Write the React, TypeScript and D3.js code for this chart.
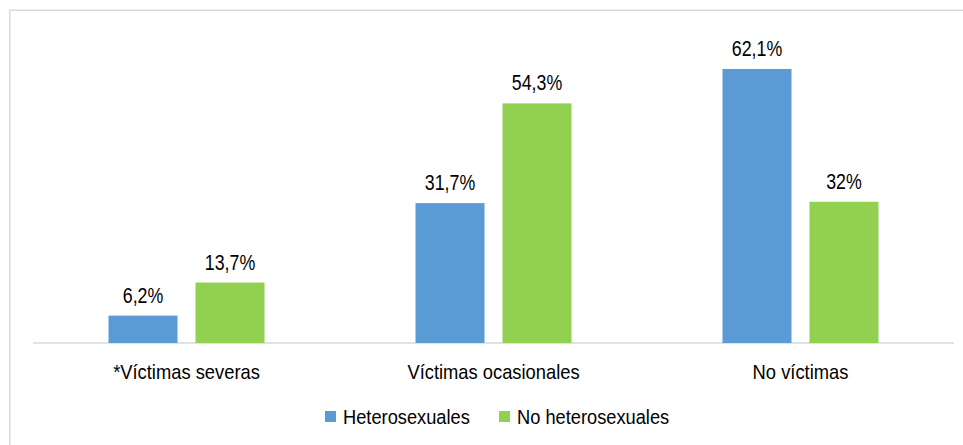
import React from "react";
import * as d3 from "d3";

const categories = ["*Víctimas severas", "Víctimas ocasionales", "No víctimas"];
const series = ["Heterosexuales", "No heterosexuales"];
const heteroValues = [6.2, 31.7, 62.1];
const noHeteroValues = [13.7, 54.3, 32];
const valueLabels = [["6,2%", "31,7%", "62,1%"], ["13,7%", "54,3%", "32%"]];
const colors = ["#5B9BD5", "#92D050"];

const W = 963;
const H = 445;
const FONT = "'Liberation Sans', Arial, sans-serif";

function NText(props: { x: number; y: number; size: number; sx: number; anchor?: "start" | "middle" | "end"; children: React.ReactNode }) {
  const { x, y, size, sx, anchor = "start", children } = props;
  return (
    <text
      transform={`translate(${x},${y}) scale(${sx},1)`}
      textAnchor={anchor}
      fontFamily={FONT}
      fontSize={size}
      fill="#000"
    >
      {children}
    </text>
  );
}

export default function App() {
  const x0 = d3.scaleBand<string>().domain(categories).range([33, 954]).paddingInner(0).paddingOuter(0);
  const x1 = d3.scaleBand<string>().domain(series).range([-78, 78]).paddingInner(18 / 87).paddingOuter(0);
  const y = d3.scaleLinear().domain([0, 70]).range([343, 34.1]);
  const data = [heteroValues, noHeteroValues];

  const legendItems = [
    { label: series[0], sx: 325, tx: 343 },
    { label: series[1], sx: 499, tx: 517 },
  ];

  return (
    <div style={{ position: "absolute", left: 0, top: 0 }}>
      <svg width={W} height={H} style={{ display: "block", background: "#fff" }}>
        <rect x={9.75} y={10.25} width={W + 10} height={H + 10} fill="#fff" stroke="#d9d9d9" strokeWidth={1.5} />
        <line x1={33} x2={954} y1={y(0)} y2={y(0)} stroke="#d9d9d9" strokeWidth={1.5} />
        {categories.map((c, ci) => {
          const cx = (x0(c) as number) + x0.bandwidth() / 2;
          return (
            <g key={c}>
              {series.map((s, si) => {
                const v = data[si][ci];
                const bx = cx + (x1(s) as number);
                return (
                  <g key={s}>
                    <rect x={bx} y={y(v)} width={x1.bandwidth()} height={y(0) - y(v)} fill={colors[si]} />
                    <NText x={bx + x1.bandwidth() / 2} y={y(v) - 13} size={22.5} sx={0.79} anchor="middle">
                      {valueLabels[si][ci]}
                    </NText>
                  </g>
                );
              })}
              <NText x={cx} y={379} size={20.5} sx={0.895} anchor="middle">
                {c}
              </NText>
            </g>
          );
        })}
        {legendItems.map((l, i) => (
          <g key={l.label}>
            <rect x={l.sx} y={411} width={11} height={11} fill={colors[i]} />
            <NText x={l.tx} y={424} size={19.5} sx={0.937}>
              {l.label}
            </NText>
          </g>
        ))}
      </svg>
    </div>
  );
}
